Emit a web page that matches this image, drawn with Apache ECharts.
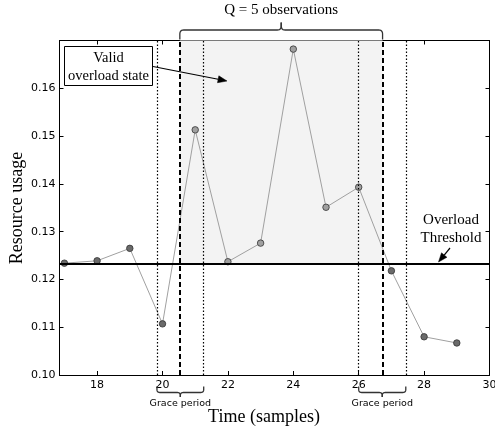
<!DOCTYPE html>
<html>
<head>
<meta charset="utf-8">
<script src="https://cdn.jsdelivr.net/npm/echarts@6/dist/echarts.min.js"></script>
<style>
  html, body { margin: 0; padding: 0; background: #fff; }
  #chart { width: 495px; height: 428px; }
</style>
</head>
<body>
<div id="chart"></div>
<script>
// 数据
const samples = [17, 18, 19, 20, 21, 22, 23, 24, 25, 26, 27, 28, 29];
const usage = [0.1234, 0.1239, 0.1265, 0.1107, 0.1513, 0.1237, 0.1276, 0.1682, 0.1351, 0.1393, 0.1218, 0.1080, 0.1067];
const inOverload = [false, false, false, false, true, true, true, true, true, true, false, false, false];
const threshold = 0.1233;
const overloadSpan = [20.53, 26.73];
const graceSpans = [[19.83, 21.26], [26.0, 27.44]];
const xTicks = [18, 20, 22, 24, 26, 28, 30];
const yTicks = [0.10, 0.11, 0.12, 0.13, 0.14, 0.15, 0.16];

const SERIF = '"Liberation Serif", "DejaVu Serif", serif';
const SANS = '"DejaVu Sans", sans-serif';
const xMin = 16.85, xMax = 30, yMin = 0.10, yMax = 0.17;

const chart = echarts.init(document.getElementById('chart'));

const axisLine = { show: true, lineStyle: { color: '#000', width: 1 } };
const tickStyle = { inside: true, length: 4, lineStyle: { color: '#000', width: 1 } };

const points = samples.map((x, i) => ({
  value: [x, usage[i]],
  itemStyle: { color: inOverload[i] ? '#a0a0a0' : '#6a6a6a', borderColor: '#333', borderWidth: 0.8 }
}));

const dotted = { type: [1.5, 2], width: 1.2, color: '#000' };
const vLines = [];
graceSpans.forEach(s => {
  vLines.push({ xAxis: s[0], lineStyle: dotted });
  vLines.push({ xAxis: s[1], lineStyle: dotted });
});
overloadSpan.forEach(x => {
  vLines.push({ xAxis: x, lineStyle: { type: [5, 3], width: 2, color: '#000' } });
});
vLines.push({ yAxis: threshold, lineStyle: { type: 'solid', width: 2, color: '#000' } });

chart.setOption({
  animation: false,
  grid: { left: 59.5, right: 5.5, top: 40.5, bottom: 53, containLabel: false, outerBoundsMode: 'none' },
  xAxis: [
    {
      type: 'value', min: xMin, max: xMax, axisLine,
      axisTick: { ...tickStyle, customValues: xTicks },
      axisLabel: { customValues: xTicks, color: '#000', fontFamily: SANS, fontSize: 11, margin: 5 },
      splitLine: { show: false }
    },
    {
      type: 'value', position: 'top', min: xMin, max: xMax, axisLine,
      axisTick: { ...tickStyle, customValues: xTicks },
      axisLabel: { show: false }, splitLine: { show: false }
    }
  ],
  yAxis: [
    {
      type: 'value', min: yMin, max: yMax, axisLine,
      axisTick: { ...tickStyle, customValues: yTicks },
      axisLabel: {
        customValues: yTicks, color: '#000', fontFamily: SANS, fontSize: 11, margin: 4,
        formatter: v => v.toFixed(2)
      },
      splitLine: { show: false }
    },
    {
      type: 'value', position: 'right', min: yMin, max: yMax, axisLine,
      axisTick: { ...tickStyle, customValues: yTicks },
      axisLabel: { show: false }, splitLine: { show: false }
    }
  ],
  series: [
    {
      type: 'line',
      data: points,
      symbol: 'circle',
      symbolSize: 6.5,
      lineStyle: { color: '#a0a0a0', width: 1 },
      z: 3,
      markArea: {
        silent: true,
        itemStyle: { color: '#f3f3f3' },
        data: [[{ xAxis: overloadSpan[0], yAxis: threshold }, { xAxis: overloadSpan[1], yAxis: yMax }]]
      },
      markLine: {
        silent: true,
        symbol: 'none',
        precision: 6,
        label: { show: false },
        data: vLines
      }
    }
  ]
});

// 标注
const px = (x, y) => chart.convertToPixel({ gridIndex: 0 }, [x, y]);

function quad(p0, c, p1, n) {
  const out = [];
  for (let i = 0; i <= n; i++) {
    const t = i / n;
    out.push([
      (1 - t) * (1 - t) * p0[0] + 2 * (1 - t) * t * c[0] + t * t * p1[0],
      (1 - t) * (1 - t) * p0[1] + 2 * (1 - t) * t * c[1] + t * t * p1[1]
    ]);
  }
  return out;
}

function brace(x1, x2, yEnd, yMid, yTip, r) {
  const xm = (x1 + x2) / 2;
  const s = Math.sign(yEnd - yMid);
  const left = [
    [x1, yEnd],
    ...quad([x1, yMid + s * r], [x1, yMid], [x1 + r, yMid], 6),
    ...quad([xm - r, yMid], [xm, yMid], [xm, yMid - s * r], 6),
    [xm, yTip]
  ];
  const right = [
    [xm, yTip],
    ...quad([xm, yMid - s * r], [xm, yMid], [xm + r, yMid], 6),
    ...quad([x2 - r, yMid], [x2, yMid], [x2, yMid + s * r], 6),
    [x2, yEnd]
  ];
  const style = { stroke: '#333', lineWidth: 1.3, fill: null };
  return [
    { type: 'polyline', shape: { points: left }, style, silent: true, z: 100 },
    { type: 'polyline', shape: { points: right }, style, silent: true, z: 100 }
  ];
}

function arrow(from, to) {
  const dx = to[0] - from[0], dy = to[1] - from[1];
  const len = Math.sqrt(dx * dx + dy * dy);
  const ux = dx / len, uy = dy / len;
  const hl = 9, hw = 3.5;
  const bx = to[0] - ux * hl, by = to[1] - uy * hl;
  return [
    { type: 'line', z: 100, shape: { x1: from[0], y1: from[1], x2: bx, y2: by }, style: { stroke: '#000', lineWidth: 1.2 }, silent: true },
    {
      type: 'polygon', silent: true, z: 100,
      shape: { points: [to, [bx - uy * hw, by + ux * hw], [bx + uy * hw, by - ux * hw]] },
      style: { fill: '#000', stroke: '#000', lineWidth: 0.5 }
    }
  ];
}

function text(str, x, y, font, extra) {
  return Object.assign({
    type: 'text', x, y, silent: true, z: 101,
    style: { text: str, font, fill: '#000', align: 'center', verticalAlign: 'middle' }
  }, extra || {});
}

const els = [];
const q0 = px(overloadSpan[0], yMax), q1 = px(overloadSpan[1], yMax);
els.push(...brace(q0[0], q1[0], 39.5, 30, 22.5, 4));
els.push(text('Q = 5 observations', (q0[0] + q1[0]) / 2, 10, '15px ' + SERIF));

graceSpans.forEach(s => {
  const a = px(s[0], yMin), b = px(s[1], yMin);
  els.push(...brace(a[0], b[0], 386.5, 392.5, 397, 3));
  els.push(text('Grace period', (a[0] + b[0]) / 2, 403.5, '9.5px ' + SANS));
});

els.push({
  type: 'rect', silent: true, z: 100,
  shape: { x: 64.5, y: 46.5, width: 88, height: 39 },
  style: { fill: '#fff', stroke: '#000', lineWidth: 1 }
});
els.push(text('Valid', 108.5, 58.5, '14.5px ' + SERIF));
els.push(text('overload state', 108.5, 76.5, '14.5px ' + SERIF));
els.push(...arrow([153, 66.5], [227, 81]));

els.push(text('Overload', 451, 220, '15px ' + SERIF));
els.push(text('Threshold', 451, 238, '15px ' + SERIF));
els.push(...arrow([450, 248], [438.5, 262]));

els.push(text('Time (samples)', 264, 417, '18px ' + SERIF));
els.push(text('Resource usage', 17, 208, '18px ' + SERIF, { rotation: Math.PI / 2 }));

chart.setOption({ graphic: { elements: els } });
</script>
</body>
</html>
